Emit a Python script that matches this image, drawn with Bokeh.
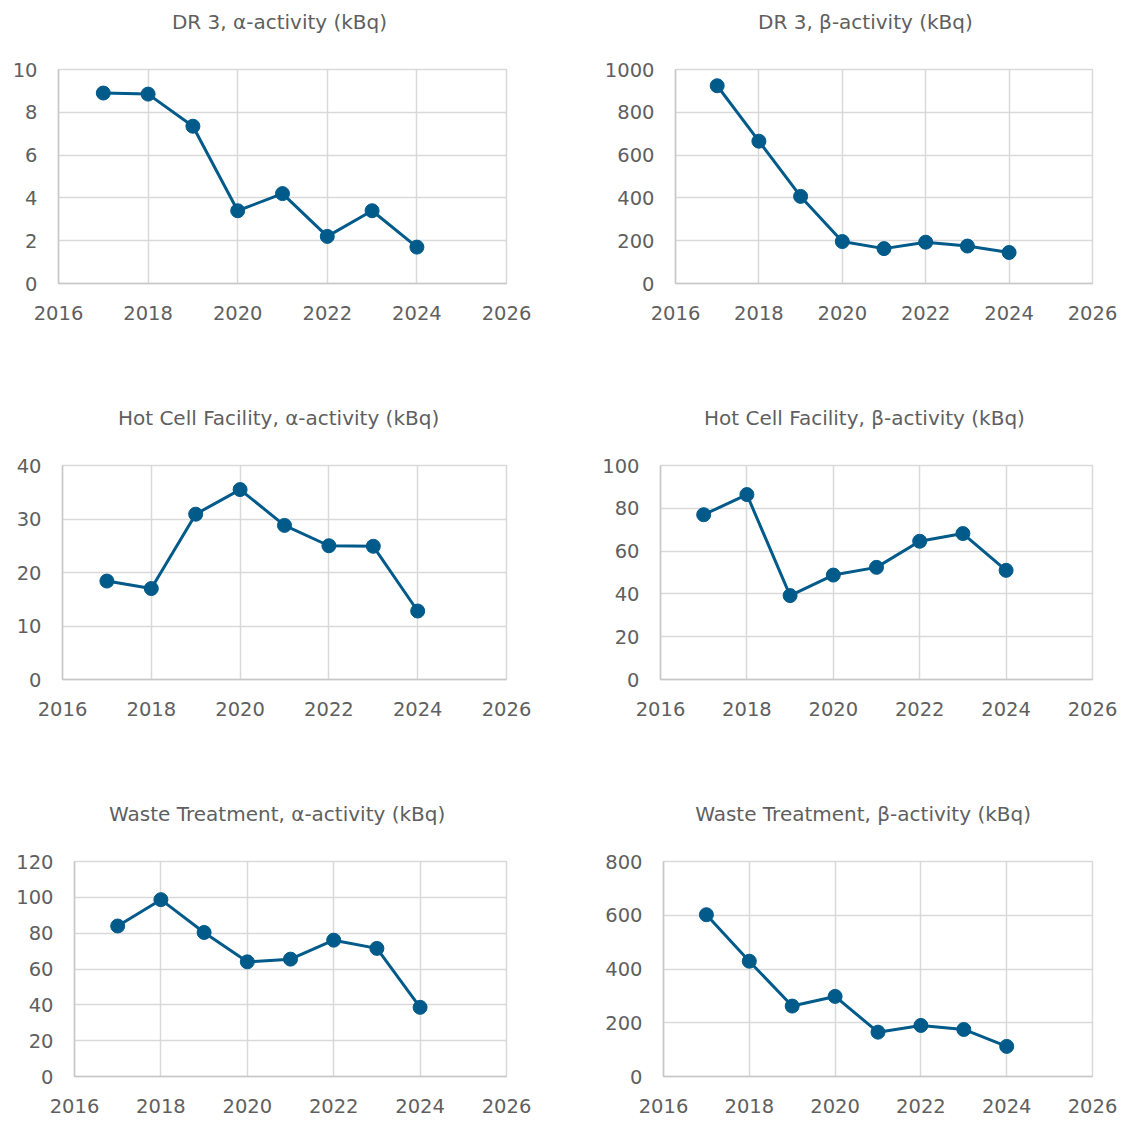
from bokeh.plotting import figure
from bokeh.layouts import column, row
from bokeh.models import FixedTicker, Range1d, Title
from bokeh.embed import file_html
from bokeh.resources import INLINE

years = [2017, 2018, 2019, 2020, 2021, 2022, 2023, 2024]
x_ticks = [2016, 2018, 2020, 2022, 2024, 2026]

dr3_alpha = [8.9, 8.85, 7.35, 3.4, 4.2, 2.2, 3.4, 1.7]
dr3_beta = [924, 665, 407, 196, 163, 193, 175, 145]
hcf_alpha = [18.4, 17.0, 30.9, 35.5, 28.8, 25.0, 24.9, 12.8]
hcf_beta = [77.0, 86.4, 39.2, 48.8, 52.4, 64.6, 68.2, 51.0]
wt_alpha = [84.0, 98.7, 80.4, 64.0, 65.5, 76.1, 71.5, 38.6]
wt_beta = [602, 429, 262, 298, 165, 190, 175, 112]

titles = [
    "DR 3, \u03b1-activity (kBq)", "DR 3, \u03b2-activity (kBq)",
    "Hot Cell Facility, \u03b1-activity (kBq)", "Hot Cell Facility, \u03b2-activity (kBq)",
    "Waste Treatment, \u03b1-activity (kBq)", "Waste Treatment, \u03b2-activity (kBq)",
]
series = [dr3_alpha, dr3_beta, hcf_alpha, hcf_beta, wt_alpha, wt_beta]
y_max = [10, 1000, 40, 100, 120, 800]
y_step = [2, 200, 10, 20, 20, 200]

# layout: (width, height, left, right, top, bottom, title centre x within figure)
LW, RW = 563, 557
geom = [
    (LW, 396, 58, 57, 69, 113, 279),
    (RW, 396, 112, 28, 69, 106, 865 - LW),
    (LW, 396, 62, 57, 69, 113, 279),
    (RW, 396, 97, 28, 69, 106, 865 - LW),
    (LW, 330, 74, 57, 69, 46, 279),
    (RW, 330, 100, 28, 69, 40, 865 - LW),
]

FONT = "DejaVu Sans"
TITLE_PX = 20
TXT = "#5f5f5f"
GRID = "#d9d9d9"
LINE = "#005a8a"

# approximate DejaVu Sans advance widths (units per em 2048), for centring titles
ADV = {' ': 651, '(': 799, ')': 799, ',': 651, '-': 739, 'B': 1405, 'C': 1430,
       'D': 1577, 'F': 1178, 'H': 1540, 'R': 1423, 'T': 1251, 'W': 2025,
       'a': 1255, 'c': 1126, 'e': 1260, 'i': 569, 'k': 1186, 'l': 569, 'm': 1995,
       'n': 1298, 'o': 1253, 'q': 1300, 'r': 842, 's': 1067, 't': 803, 'v': 1212,
       'y': 1212, '\u03b1': 1352, '\u03b2': 1328}


def text_width(s, px):
    return sum(ADV.get(c, 1303) for c in s) / 2048 * px


figs = []
for i in range(6):
    w, h, l, r, t, b, tc = geom[i]
    p = figure(width=w, height=h, output_backend="svg", toolbar_location=None,
               x_range=Range1d(2016, 2026), y_range=Range1d(0, y_max[i]),
               min_border_left=l, min_border_right=r, min_border_top=t, min_border_bottom=b)
    # visible title (outermost)
    p.title.text = titles[i]
    p.title.align = "left"
    p.title.offset = tc - l - text_width(titles[i], TITLE_PX) / 2
    p.title.vertical_align = "top"
    p.title.standoff = 19
    p.title.text_font = FONT
    p.title.text_font_style = "normal"
    p.title.text_font_size = f"{TITLE_PX}px"
    p.title.text_color = TXT
    # spacer between the visible title and the frame
    spacer = Title(text=" ", text_font_size="1px", standoff=21)
    p.add_layout(spacer, "above")
    p.line(years, series[i], line_color=LINE, line_width=3)
    p.scatter(years, series[i], size=14, fill_color=LINE, line_color=LINE)
    p.xaxis.ticker = FixedTicker(ticks=x_ticks)
    p.yaxis.ticker = FixedTicker(ticks=list(range(0, y_max[i] + 1, y_step[i])))
    for ax in (p.xaxis[0], p.yaxis[0]):
        ax.axis_line_color = "#c8c8c8"
        ax.axis_line_width = 1.5
        ax.major_tick_line_color = None
        ax.minor_tick_line_color = None
        ax.major_label_text_font = FONT
        ax.major_label_text_font_size = "19.5px"
        ax.major_label_text_color = TXT
    p.xaxis.major_label_standoff = 16
    p.yaxis.major_label_standoff = 15
    p.xgrid.grid_line_color = GRID
    p.ygrid.grid_line_color = GRID
    p.xgrid.grid_line_width = 1.5
    p.ygrid.grid_line_width = 1.5
    p.outline_line_color = GRID
    p.outline_line_width = 1.5
    p.background_fill_color = "white"
    p.border_fill_color = "white"
    figs.append(p)

layout = column(row(figs[0], figs[1]), row(figs[2], figs[3]), row(figs[4], figs[5]))

open("out.html", "w").write(file_html(layout, INLINE))
